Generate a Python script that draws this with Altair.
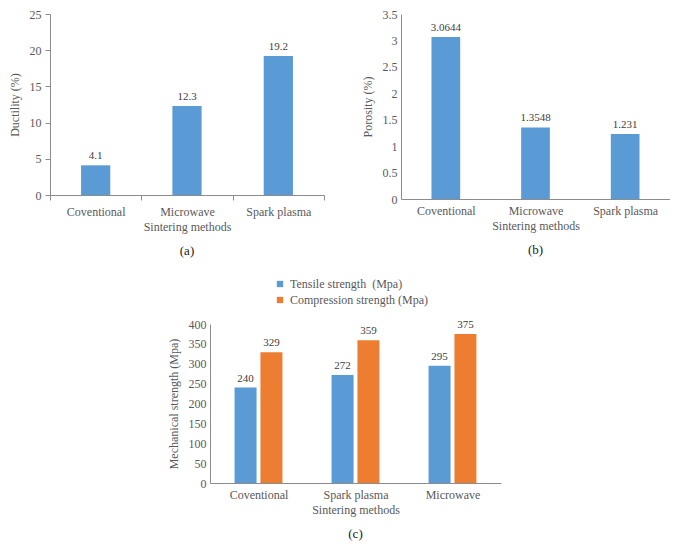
import altair as alt
import pandas as pd

# Panel (a)
methods_a = ["Coventional", "Microwave", "Spark plasma"]
ductility = [4.1, 12.3, 19.2]

# Panel (b)
methods_b = ["Coventional", "Microwave", "Spark plasma"]
porosity = [3.0644, 1.3548, 1.231]

# Panel (c)
methods_c = ["Coventional", "Spark plasma", "Microwave"]
series_c = ["Tensile strength\u00a0 (Mpa)", "Compression strength (Mpa)"]
tensile = [240, 272, 295]
compression = [329, 359, 375]

BLUE = "#5B9BD5"
ORANGE = "#ED7D31"
FONT = "Liberation Serif"
TXT = "#595959"

df_a = pd.DataFrame({"method": methods_a, "value": ductility, "label": [str(v) for v in ductility]})
df_b = pd.DataFrame({"method": methods_b, "value": porosity, "label": [str(v) for v in porosity]})
rows = []
for m, t, c in zip(methods_c, tensile, compression):
    rows.append({"method": m, "series": series_c[0], "value": t})
    rows.append({"method": m, "series": series_c[1], "value": c})
df_c = pd.DataFrame(rows)


def y_axis(title, values, ticks):
    return alt.Axis(title=title, values=values, format="~r", grid=False, domainColor="#8C8C8C",
                    ticks=ticks, tickColor="#8C8C8C", tickSize=5, labelFont=FONT,
                    labelFontSize=12, labelColor=TXT, titleFont=FONT, titleFontSize=12,
                    titleFontWeight="normal", titleColor=TXT, labelPadding=4, titlePadding=8)


def x_axis(ticks):
    return alt.Axis(title="Sintering methods", labelAngle=0, domainColor="#8C8C8C",
                    ticks=ticks, tickBand="extent", tickColor="#8C8C8C", tickSize=5,
                    labelFont=FONT, labelFontSize=12, labelColor=TXT, labelPadding=6,
                    titleFont=FONT, titleFontSize=12, titleFontWeight="normal",
                    titleColor=TXT, titlePadding=4)


def caption(t):
    return alt.TitleParams(t, orient="bottom", font=FONT, fontSize=13, fontWeight="normal",
                           color="#222222", offset=13)


base_a = alt.Chart(df_a).encode(
    x=alt.X("method:N", sort=methods_a, scale=alt.Scale(paddingInner=0, paddingOuter=0), axis=x_axis(True)),
    y=alt.Y("value:Q", scale=alt.Scale(domain=[0, 25], nice=False),
            axis=y_axis("Ductility (%)", [0, 5, 10, 15, 20, 25], True)),
)
chart_a = (base_a.mark_bar(color=BLUE, width=alt.RelativeBandSize(0.32))
           + base_a.mark_text(dy=-9, font=FONT, fontSize=11, color="#404040").encode(text="label:N")
           ).properties(width=274, height=181, title=caption("(a)"))

base_b = alt.Chart(df_b).encode(
    x=alt.X("method:N", sort=methods_b, scale=alt.Scale(paddingInner=0, paddingOuter=0), axis=x_axis(False)),
    y=alt.Y("value:Q", scale=alt.Scale(domain=[0, 3.5], nice=False),
            axis=y_axis("Porosity (%)", [0, 0.5, 1, 1.5, 2, 2.5, 3, 3.5], False)),
)
chart_b = (base_b.mark_bar(color=BLUE, width=alt.RelativeBandSize(0.32))
           + base_b.mark_text(dy=-9, font=FONT, fontSize=11, color="#404040").encode(text="label:N")
           ).properties(width=269, height=185, title=caption("(b)"))

base_c = alt.Chart(df_c).encode(
    x=alt.X("method:N", sort=methods_c, scale=alt.Scale(paddingInner=0, paddingOuter=0), axis=x_axis(False)),
    xOffset=alt.XOffset("series:N", sort=series_c, scale=alt.Scale(paddingInner=0.15, paddingOuter=0.95)),
    y=alt.Y("value:Q", scale=alt.Scale(domain=[0, 400], nice=False),
            axis=y_axis("Mechanical strength (Mpa)", list(range(0, 401, 50)), False)),
)
chart_c = (base_c.mark_bar().encode(
    color=alt.Color("series:N", sort=series_c,
                    scale=alt.Scale(domain=series_c, range=[BLUE, ORANGE]),
                    legend=alt.Legend(title=None, orient="none", legendX=64, legendY=-46,
                                      direction="vertical", symbolType="square", symbolSize=40,
                                      labelFont=FONT, labelFontSize=12, labelColor=TXT,
                                      rowPadding=4, symbolStrokeWidth=0)))
           + base_c.mark_text(dy=-9, font=FONT, fontSize=11, color="#404040").encode(text="value:Q")
           ).properties(width=291, height=159, title=caption("(c)"))

spacer = alt.Chart(pd.DataFrame({"v": [0]})).mark_point(opacity=0).encode(
    x=alt.X("v:Q", axis=None), y=alt.Y("v:Q", axis=None)).properties(width=117, height=10)

top = alt.hconcat(chart_a, chart_b, spacing=36)
bottom = alt.hconcat(spacer, chart_c, spacing=0).resolve_scale(color="independent")
chart = (alt.vconcat(top, bottom, spacing=20)
         .resolve_scale(color="independent")
         .properties(padding=0)
         .configure_view(stroke=None))

chart.save("out.html", embed_options={"renderer": "svg", "actions": False})
